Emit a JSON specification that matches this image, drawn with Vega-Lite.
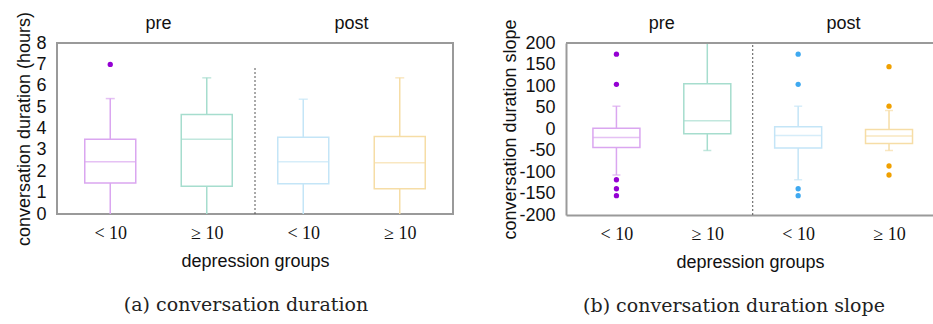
{
  "$schema": "https://vega.github.io/schema/vega-lite/v6.json",
  "background": "white",
  "padding": {"left": 13, "top": 10, "right": 0, "bottom": 0},
  "bounds": "flush",
  "spacing": 113,
  "config": {
    "locale": {"number": {"decimal": ".", "thousands": ",", "grouping": [3], "currency": ["$", ""], "minus": "-"}},
    "view": {"stroke": "#9a9a9a", "strokeWidth": 2},
    "axis": {
      "grid": false, "ticks": false, "domain": false, "labelOverlap": false,
      "labelColor": "#111", "titleColor": "#111",
      "labelFont": "Liberation Sans", "titleFont": "Liberation Sans",
      "titleFontWeight": "normal", "labelFontSize": 18, "titleFontSize": 18
    },
    "text": {"font": "Liberation Sans", "fontSize": 18, "color": "#111"},
    "title": {"font": "DejaVu Serif", "fontSize": 19, "fontWeight": "normal", "color": "#222"}
  },
  "datasets": {
    "a_stats": [
      {"g": 1, "grp": "pre <10", "lo": 0, "q1": 1.45, "med": 2.45, "q3": 3.5, "hi": 5.4},
      {"g": 2, "grp": "pre ≥10", "lo": 0, "q1": 1.3, "med": 3.5, "q3": 4.65, "hi": 6.37},
      {"g": 3, "grp": "post <10", "lo": 0, "q1": 1.42, "med": 2.45, "q3": 3.59, "hi": 5.37},
      {"g": 4, "grp": "post ≥10", "lo": 0, "q1": 1.18, "med": 2.4, "q3": 3.62, "hi": 6.37}
    ],
    "a_out": [
      {"g": 1, "grp": "pre <10", "v": 7.0}
    ],
    "a_div": [{"x": 2.5, "y0": 0, "y1": 6.9}],
    "hdr": [{"pos": 1.5, "phase": "pre"}, {"pos": 3.5, "phase": "post"}],
    "b_stats": [
      {"g": 1, "grp": "pre <10", "lo": -107, "q1": -43, "med": -20, "q3": 2, "hi": 53},
      {"g": 2, "grp": "pre ≥10", "lo": -50, "q1": -11, "med": 19, "q3": 105, "hi": 200},
      {"g": 3, "grp": "post <10", "lo": -118, "q1": -44, "med": -15, "q3": 5, "hi": 53},
      {"g": 4, "grp": "post ≥10", "lo": -50, "q1": -34, "med": -16, "q3": -1, "hi": 43}
    ],
    "b_out": [
      {"g": 1, "grp": "pre <10", "v": 174},
      {"g": 1, "grp": "pre <10", "v": 104},
      {"g": 1, "grp": "pre <10", "v": -118},
      {"g": 1, "grp": "pre <10", "v": -139},
      {"g": 1, "grp": "pre <10", "v": -155},
      {"g": 3, "grp": "post <10", "v": 174},
      {"g": 3, "grp": "post <10", "v": 104},
      {"g": 3, "grp": "post <10", "v": -139},
      {"g": 3, "grp": "post <10", "v": -155},
      {"g": 4, "grp": "post ≥10", "v": 145},
      {"g": 4, "grp": "post ≥10", "v": 53},
      {"g": 4, "grp": "post ≥10", "v": -86},
      {"g": 4, "grp": "post ≥10", "v": -107}
    ],
    "b_div": [{"x": 2.5, "y0": -200, "y1": 200}]
  },
  "hconcat": [
    {
      "width": 396,
      "height": 171,
      "title": {"text": "(a) conversation duration", "orient": "bottom", "anchor": "middle", "frame": "group", "dx": -9, "offset": 26},
      "layer": [
        {
          "data": {"name": "a_stats"},
          "mark": {"type": "rule", "strokeWidth": 1.5},
          "encoding": {
            "x": {"field": "g", "type": "quantitative", "scale": {"domain": [0.5, 4.5], "nice": false, "zero": false},
              "title": "depression groups",
              "axis": {"orient": "bottom", "values": [1, 2, 3, 4], "tickCount": 20, "labelExpr": "datum.value % 2 == 1 ? '< 10' : '≥ 10'", "labelFont": "Liberation Serif", "labelFontSize": 18, "labelPadding": 10, "titlePadding": 10}},
            "y": {"field": "lo", "type": "quantitative", "scale": {"domain": [0, 8], "nice": false, "zero": false},
              "title": "conversation duration (hours)",
              "axis": {"values": [0, 1, 2, 3, 4, 5, 6, 7, 8], "tickCount": 20, "labelExpr": "'' + datum.value", "labelOverlap": false, "labelFontSize": 18, "labelPadding": 11, "titlePadding": 2, "minExtent": 22, "maxExtent": 22}},
            "y2": {"field": "q1"},
            "color": {"field": "grp", "type": "nominal", "legend": null,
              "scale": {"domain": ["pre <10", "pre ≥10", "post <10", "post ≥10"], "range": ["#daa6f0", "#a6ddce", "#c4e5f7", "#f6dda6"]}}
          }
        },
        {
          "data": {"name": "a_stats"},
          "mark": {"type": "rule", "strokeWidth": 1.5},
          "encoding": {
            "x": {"field": "g", "type": "quantitative", "title": "depression groups"},
            "y": {"field": "q3", "type": "quantitative", "title": "conversation duration (hours)"},
            "y2": {"field": "hi"},
            "color": {"field": "grp", "type": "nominal", "legend": null}
          }
        },
        {
          "data": {"name": "a_stats"},
          "mark": {"type": "bar", "filled": false, "strokeWidth": 1.5, "width": 51},
          "encoding": {
            "x": {"field": "g", "type": "quantitative", "title": "depression groups"},
            "y": {"field": "q1", "type": "quantitative", "title": "conversation duration (hours)"},
            "y2": {"field": "q3"},
            "color": {"field": "grp", "type": "nominal", "legend": null}
          }
        },
        {
          "data": {"name": "a_stats"},
          "mark": {"type": "tick", "orient": "horizontal", "size": 51, "thickness": 1.5},
          "encoding": {
            "x": {"field": "g", "type": "quantitative", "title": "depression groups"},
            "y": {"field": "med", "type": "quantitative", "title": "conversation duration (hours)"},
            "color": {"field": "grp", "type": "nominal", "legend": null}
          }
        },
        {
          "data": {"name": "a_stats"},
          "mark": {"type": "tick", "orient": "horizontal", "size": 9, "thickness": 1.5},
          "encoding": {
            "x": {"field": "g", "type": "quantitative", "title": "depression groups"},
            "y": {"field": "hi", "type": "quantitative", "title": "conversation duration (hours)"},
            "color": {"field": "grp", "type": "nominal", "legend": null}
          }
        },
        {
          "data": {"name": "a_out"},
          "mark": {"type": "point", "filled": true, "opacity": 1, "size": 28},
          "encoding": {
            "x": {"field": "g", "type": "quantitative", "title": "depression groups"},
            "y": {"field": "v", "type": "quantitative", "title": "conversation duration (hours)"},
            "fill": {"field": "grp", "type": "nominal", "legend": null,
              "scale": {"domain": ["pre <10", "pre ≥10", "post <10", "post ≥10"], "range": ["#9400d3", "#009e73", "#3fa9f0", "#f0a000"]}}
          }
        },
        {
          "data": {"name": "a_div"},
          "mark": {"type": "rule", "color": "#555", "strokeWidth": 1, "strokeDash": [2, 2]},
          "encoding": {
            "x": {"field": "x", "type": "quantitative", "title": "depression groups"},
            "y": {"field": "y0", "type": "quantitative", "title": "conversation duration (hours)"},
            "y2": {"field": "y1"}
          }
        },
        {
          "data": {"name": "hdr"},
          "mark": {"type": "text", "baseline": "middle", "align": "center"},
          "encoding": {
            "x": {"field": "pos", "type": "quantitative", "title": "depression groups"},
            "y": {"datum": 8.9, "type": "quantitative", "title": "conversation duration (hours)"},
            "text": {"field": "phase", "type": "nominal"}
          }
        }
      ]
    },
    {
      "width": 368,
      "height": 172,
      "view": {"stroke": null},
      "title": {"text": "(b) conversation duration slope", "orient": "bottom", "anchor": "middle", "frame": "group", "dx": -16, "offset": 26},
      "layer": [
        {
          "data": {"name": "b_stats"},
          "mark": {"type": "rule", "strokeWidth": 1.5},
          "encoding": {
            "x": {"field": "g", "type": "quantitative", "scale": {"domain": [0.5, 4.44], "nice": false, "zero": false},
              "title": "depression groups",
              "axis": {"orient": "bottom", "values": [1, 2, 3, 4], "tickCount": 20, "labelExpr": "datum.value % 2 == 1 ? '< 10' : '≥ 10'", "labelFont": "Liberation Serif", "labelFontSize": 18, "labelPadding": 10, "titlePadding": 10, "domain": true, "domainColor": "#9a9a9a", "domainWidth": 2}},
            "y": {"field": "lo", "type": "quantitative", "scale": {"domain": [-200, 200], "nice": false, "zero": false},
              "title": "conversation duration slope",
              "axis": {"values": [-200, -150, -100, -50, 0, 50, 100, 150, 200], "tickCount": 20, "labelExpr": "'' + datum.value", "labelOverlap": false, "labelFontSize": 18, "labelPadding": 11, "titlePadding": 2, "minExtent": 45, "maxExtent": 45, "domain": true, "domainColor": "#9a9a9a", "domainWidth": 2}},
            "y2": {"field": "q1"},
            "color": {"field": "grp", "type": "nominal", "legend": null,
              "scale": {"domain": ["pre <10", "pre ≥10", "post <10", "post ≥10"], "range": ["#daa6f0", "#a6ddce", "#c4e5f7", "#f6dda6"]}}
          }
        },
        {
          "data": {"name": "b_stats"},
          "mark": {"type": "rule", "strokeWidth": 1.5},
          "encoding": {
            "x": {"field": "g", "type": "quantitative", "title": "depression groups"},
            "y": {"field": "q3", "type": "quantitative", "title": "conversation duration slope"},
            "y2": {"field": "hi"},
            "color": {"field": "grp", "type": "nominal", "legend": null}
          }
        },
        {
          "data": {"name": "b_stats"},
          "mark": {"type": "bar", "filled": false, "strokeWidth": 1.5, "width": 47},
          "encoding": {
            "x": {"field": "g", "type": "quantitative", "title": "depression groups"},
            "y": {"field": "q1", "type": "quantitative", "title": "conversation duration slope"},
            "y2": {"field": "q3"},
            "color": {"field": "grp", "type": "nominal", "legend": null}
          }
        },
        {
          "data": {"name": "b_stats"},
          "mark": {"type": "tick", "orient": "horizontal", "size": 47, "thickness": 1.5},
          "encoding": {
            "x": {"field": "g", "type": "quantitative", "title": "depression groups"},
            "y": {"field": "med", "type": "quantitative", "title": "conversation duration slope"},
            "color": {"field": "grp", "type": "nominal", "legend": null}
          }
        },
        {
          "data": {"name": "b_stats"},
          "mark": {"type": "tick", "orient": "horizontal", "size": 8, "thickness": 1.5},
          "encoding": {
            "x": {"field": "g", "type": "quantitative", "title": "depression groups"},
            "y": {"field": "hi", "type": "quantitative", "title": "conversation duration slope"},
            "color": {"field": "grp", "type": "nominal", "legend": null}
          }
        },
        {
          "data": {"name": "b_stats"},
          "mark": {"type": "tick", "orient": "horizontal", "size": 8, "thickness": 1.5},
          "encoding": {
            "x": {"field": "g", "type": "quantitative", "title": "depression groups"},
            "y": {"field": "lo", "type": "quantitative", "title": "conversation duration slope"},
            "color": {"field": "grp", "type": "nominal", "legend": null}
          }
        },
        {
          "data": {"name": "b_out"},
          "mark": {"type": "point", "filled": true, "opacity": 1, "size": 28},
          "encoding": {
            "x": {"field": "g", "type": "quantitative", "title": "depression groups"},
            "y": {"field": "v", "type": "quantitative", "title": "conversation duration slope"},
            "fill": {"field": "grp", "type": "nominal", "legend": null,
              "scale": {"domain": ["pre <10", "pre ≥10", "post <10", "post ≥10"], "range": ["#9400d3", "#009e73", "#3fa9f0", "#f0a000"]}}
          }
        },
        {
          "data": {"name": "b_div"},
          "mark": {"type": "rule", "color": "#555", "strokeWidth": 1, "strokeDash": [2, 2]},
          "encoding": {
            "x": {"field": "x", "type": "quantitative", "title": "depression groups"},
            "y": {"field": "y0", "type": "quantitative", "title": "conversation duration slope"},
            "y2": {"field": "y1"}
          }
        },
        {
          "data": {"name": "b_div"},
          "mark": {"type": "rule", "color": "#9a9a9a", "strokeWidth": 2},
          "encoding": {
            "y": {"datum": 200, "type": "quantitative", "title": "conversation duration slope"}
          }
        },
        {
          "data": {"name": "hdr"},
          "mark": {"type": "text", "baseline": "middle", "align": "center"},
          "encoding": {
            "x": {"field": "pos", "type": "quantitative", "title": "depression groups"},
            "y": {"datum": 244, "type": "quantitative", "title": "conversation duration slope"},
            "text": {"field": "phase", "type": "nominal"}
          }
        }
      ]
    }
  ]
}
